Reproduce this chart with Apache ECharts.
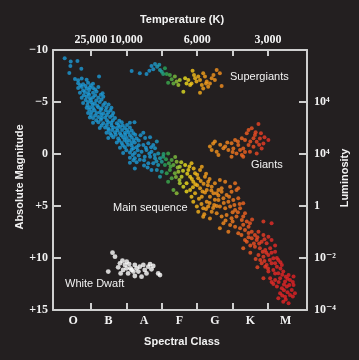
<!DOCTYPE html>
<html><head><meta charset="utf-8">
<script src="https://cdn.jsdelivr.net/npm/echarts@6/dist/echarts.min.js"></script>
<style>html,body{margin:0;padding:0;background:#231f20}#c{width:359px;height:360px}</style>
</head><body><div id="c"></div>
<script>
// ---- data ----
const spectralClasses = ['O','B','A','F','G','K','M'];
const spectralLabelPos = [0.5,1.5,2.5,3.5,4.5,5.5,6.5];
const classBoundaries = [1,2,3,4,5,6];
const temperatureTicks = [1,2,4,6];
const temperatureLabels = ['25,000','10,000','6,000','3,000'];
const magnitudeTicks = [-10,-5,0,5,10,15];
const magnitudeLabels = ['\u221210','\u22125','0','+5','+10','+15'];
const luminosityTicks = [-5,0,5,10,15];
const luminosityLabels = ['10\u2074','10\u2074','1','10\u207B\u00B2','10\u207B\u2074'];

const mainSequence = [
[0.26,-9.2],[0.43,-8.9],[0.62,-8.95],[0.42,-8.45],[0.39,-7.8],[0.73,-8.2],[1.23,-7.45],
[0.55,-7.2],[0.64,-7.1],[0.74,-7.25],[0.88,-7.15],
[0.64,-6.8],[0.78,-6.7],[0.92,-6.85],[1.06,-6.75],
[0.64,-6.35],[0.74,-6.45],[0.88,-6.3],[0.97,-6.4],[1.06,-6.35],[1.21,-6.45],
[0.69,-5.9],[0.83,-5.95],[0.92,-5.85],[1.06,-5.9],[1.16,-6.0],[1.33,-5.85],
[0.74,-5.4],[0.88,-5.5],[0.97,-5.35],[1.06,-5.45],[1.21,-5.4],[1.35,-5.5],
[0.78,-4.9],[0.92,-5.0],[1.02,-4.95],[1.11,-4.85],[1.25,-5.0],[1.40,-4.9],
[0.88,-4.45],[0.97,-4.5],[1.06,-4.4],[1.21,-4.5],[1.30,-4.4],[1.44,-4.5],[1.58,-4.45],
[0.92,-3.95],[1.02,-4.05],[1.16,-3.95],[1.25,-4.0],[1.35,-3.9],[1.49,-4.0],[1.63,-3.95],
[0.97,-3.5],[1.06,-3.45],[1.21,-3.55],[1.30,-3.45],[1.40,-3.5],[1.54,-3.55],[1.68,-3.45],
[1.06,-3.0],[1.21,-3.05],[1.35,-2.95],[1.49,-3.05],[1.58,-3.0],[1.73,-2.95],[1.87,-3.05],[2.10,-3.0],[2.23,-3.05],
[1.25,-2.5],[1.40,-2.55],[1.49,-2.45],[1.63,-2.55],[1.73,-2.5],[1.82,-2.6],[1.96,-2.5],[2.10,-2.55],
[1.44,-2.05],[1.54,-2.0],[1.68,-2.1],[1.82,-2.0],[1.96,-2.05],[2.06,-2.1],[2.20,-2.0],[2.48,-2.05],
[1.49,-1.55],[1.63,-1.6],[1.77,-1.5],[1.91,-1.6],[2.01,-1.55],[2.15,-1.6],[2.29,-1.5],[2.53,-1.55],[2.67,-1.6],
[1.73,-1.1],[1.87,-1.05],[2.01,-1.15],[2.15,-1.05],[2.24,-1.1],
[1.82,-0.6],[1.96,-0.65],[2.20,-0.55],[2.29,-0.65],
[1.91,-0.1],[2.10,-0.15],[2.24,-0.1],
[2.10,0.35],[2.24,0.4],[2.10,0.85],[2.29,0.8],[2.24,1.4],
[0.70,-6.6],[0.85,-6.55],[1.00,-6.6],[0.78,-6.1],[0.95,-6.15],[1.12,-6.2],[0.80,-5.65],[0.95,-5.7],[1.12,-5.65],[1.28,-5.7],
[0.85,-5.2],[1.00,-5.2],[1.15,-5.15],[1.30,-5.25],[0.90,-4.7],[1.05,-4.7],[1.18,-4.65],[1.35,-4.7],[1.50,-4.75],
[0.95,-4.25],[1.10,-4.2],[1.28,-4.25],[1.42,-4.2],[1.55,-4.2],[1.00,-3.75],[1.12,-3.7],[1.30,-3.75],[1.45,-3.75],[1.60,-3.7],
[1.15,-3.25],[1.28,-3.3],[1.45,-3.25],[1.62,-3.25],[1.80,-3.2],[1.30,-2.75],[1.45,-2.8],[1.58,-2.75],[1.78,-2.8],[1.90,-2.75],[2.02,-2.8],
[1.50,-2.3],[1.60,-2.3],[1.75,-2.25],[1.88,-2.3],[2.02,-2.3],[2.15,-2.25],[1.58,-1.8],[1.70,-1.85],[1.85,-1.8],[1.97,-1.85],
[2.10,-1.8],[2.25,-1.85],[2.40,-1.8],[1.80,-1.3],[1.95,-1.35],[2.08,-1.3],[2.20,-1.35],[2.35,-1.3],[1.90,-0.85],[2.05,-0.9],
[2.15,-0.8],[2.35,-0.85],[2.00,-0.35],[2.15,-0.4],[2.32,-0.35],[2.18,0.1],[2.35,0.15],[2.20,0.6],[2.38,0.55],[2.50,0.6],
[2.55,-0.6],[2.70,-0.65],[2.65,-0.05],[2.80,0.1],[2.50,1.1],[2.85,0.7],[2.60,1.3],
[2.48,-0.87],[2.62,-1.03],[2.76,-0.87],[2.86,-1.19],[2.43,-0.22],[2.57,-0.38],[2.71,-0.22],[2.81,-0.55],[2.90,-0.06],
[2.52,0.26],[2.67,0.26],[2.81,0.42],[2.95,0.42],[3.04,0.26],[2.62,0.9],[2.76,0.9],[2.90,1.06],[3.00,0.74],[3.09,1.06],
[2.71,1.54],[2.86,1.54],[3.00,1.7],[3.14,1.86],[2.95,2.18],
[3.18,-0.06],[3.28,0.58],[3.33,1.06],[3.42,0.74],[3.51,1.22],[3.23,1.54],[3.37,1.86],[3.47,1.7],[3.56,2.18],
[3.18,2.66],[3.33,3.46],[3.42,3.78],[3.51,2.82],[3.61,3.14],[3.28,2.34],
[3.05,0.0],[3.12,0.5],[3.20,0.9],[3.25,1.2],[3.38,0.3],[3.45,1.3],[3.55,0.8],[3.60,1.6],[3.40,2.2],[3.50,2.5],
[3.72,1.9],[3.78,1.2],[3.85,2.4],[3.90,1.4],[3.95,2.9],[3.70,3.6],[3.88,3.2],[4.00,2.0],[4.10,2.6],[4.15,3.6],
[4.25,1.9],[4.35,2.4],[4.40,3.5],[4.30,3.0],[4.12,4.8],[4.25,5.3],[4.35,4.7],[4.48,4.9],
[3.66,1.06],[3.75,1.54],[3.84,0.9],[3.80,2.18],[3.89,2.66],[3.94,1.86],[4.03,2.34],[4.08,1.54],[3.70,2.82],
[3.80,3.46],[3.94,3.78],[4.08,3.3],[4.13,4.1],[3.89,4.58],[3.99,5.06],[4.17,5.22],[4.03,5.55],[3.84,4.1],[4.13,1.22],
[4.22,2.18],[4.31,2.66],[4.41,3.14],[4.50,2.82],[4.60,3.46],[4.69,3.3],[4.27,3.46],[4.36,4.1],[4.46,3.78],
[4.31,5.06],[4.41,5.55],[4.36,6.19],[4.27,4.58],[4.17,6.03],[4.79,2.66],[4.93,3.14],[5.07,2.82],[5.16,3.3],[4.64,2.5],
[4.00,3.0],[4.18,2.85],[4.22,3.7],[4.50,4.4],[4.55,5.0],[4.05,4.3],[4.45,5.2],[4.20,5.8],
[4.55,3.78],[4.69,3.62],[4.83,3.94],[4.97,3.62],[5.11,3.46],[4.60,4.42],[4.74,4.26],[4.88,4.58],[5.02,4.42],[5.16,4.26],
[5.30,4.74],[4.64,5.06],[4.79,5.22],[4.93,5.06],[5.07,5.38],[5.21,5.22],[5.35,5.7],[4.55,5.7],[4.69,6.02],[4.83,5.86],
[4.97,6.18],[5.11,6.02],[5.26,6.34],[5.40,6.5],[4.74,6.67],[4.93,6.83],[5.07,6.99],[5.21,7.15],[5.35,7.31],[5.49,6.67],
[4.64,7.15],[4.88,7.47],[5.16,7.63],
[4.60,4.0],[4.75,4.7],[4.90,4.1],[5.05,4.9],[5.20,4.8],[5.00,5.6],[5.15,5.6],[5.30,6.0],[4.80,6.4],[5.00,6.5],
[5.30,6.8],[5.45,7.6],[5.55,6.3],[5.25,7.8],[5.45,8.0],[5.70,8.0],[5.90,8.2],[5.50,8.8],[5.75,8.6],[5.85,9.4],
[6.10,9.5],[6.25,10.0],[5.65,10.1],[5.90,10.3],[6.20,10.5],[6.35,10.4],[6.00,11.0],[6.20,11.5],[6.40,11.6],[6.55,12.0],
[6.10,12.3],[6.30,12.3],[6.45,12.55],[6.70,12.3],[6.55,13.3],[6.40,13.6],[6.70,13.7],[6.50,14.0],
[5.54,7.47],[5.63,7.79],[5.73,7.47],[5.87,7.79],[6.01,7.95],[5.54,8.11],[5.68,8.27],[5.82,8.43],[5.96,8.59],[6.10,8.27],
[5.40,8.43],[5.63,8.91],[5.77,9.07],[5.92,9.23],[6.06,9.07],[6.20,9.39],[5.73,9.71],[5.87,9.87],[6.01,9.71],[6.15,10.03],
[6.29,10.19],[5.82,10.51],[5.96,10.67],[6.10,10.51],[6.25,10.83],[6.39,10.67],[5.87,6.5],[6.10,6.67],[5.30,9.07],[5.35,8.27],
[5.45,7.0],[5.60,8.6],[5.50,9.5],[5.78,10.2],[6.05,10.2],[6.35,11.0],[6.50,11.8],[6.15,12.5],[6.60,12.6],[6.45,13.1],[5.95,9.5],[6.20,8.8],[5.70,10.9],
[6.01,11.31],[6.15,11.15],[6.29,11.47],[6.43,11.31],[6.58,11.63],[6.06,11.95],[6.20,12.11],[6.34,11.95],[6.48,12.27],[6.62,12.11],
[6.72,12.59],[6.25,12.75],[6.39,12.91],[6.53,12.75],[6.67,13.08],[6.34,13.4],[6.48,13.72],[6.62,13.56],[6.76,13.4],[6.43,14.2],
[6.58,14.36],[6.29,13.88],[5.92,10.83],[6.72,11.79],[5.87,11.95]
];

const supergiants = [
[2.15,-7.98],[2.38,-7.76],[2.57,-7.69],[2.65,-8.01],[2.71,-8.46],[2.81,-8.65],[2.87,-8.4],[2.93,-8.59],[2.76,-8.14],[2.95,-8.08],
[3.00,-7.92],[3.09,-8.24],[3.14,-7.69],[3.04,-7.69],[3.23,-7.6],[3.28,-7.18],[3.18,-6.86],[3.37,-7.44],[3.42,-6.96],[3.51,-7.12],
[3.47,-6.63],[3.33,-6.79],[3.61,-5.99],[3.66,-7.28],[3.70,-6.79],[3.75,-7.12],[3.80,-6.63],[3.87,-8.01],[3.91,-7.6],[3.94,-7.28],
[3.98,-6.96],[3.84,-6.79],[4.03,-7.44],[4.08,-7.12],[4.13,-6.63],[4.08,-5.9],[4.17,-7.76],[4.22,-7.44],[4.27,-6.96],[4.31,-6.47],
[4.36,-6.79],[4.41,-7.28],[4.46,-7.6],[4.50,-7.12],[4.55,-8.08],[4.64,-7.76],[4.69,-6.54],[4.17,-6.31],[4.25,-6.79]
];

const giants = [
[4.36,-0.71],[4.41,-0.38],[4.50,-1.19],[4.55,-0.22],[4.79,-0.71],[4.88,-0.38],[4.97,-1.03],[5.02,-0.54],[5.07,-1.35],[5.11,-0.06],
[5.16,-0.87],[5.21,-0.38],[4.97,0.26],[4.60,0.09],[4.74,-0.55],
[5.73,-2.88],[5.54,-2.47],[5.40,-1.99],[5.63,-1.83],[5.77,-1.5],[6.01,-1.34],[5.87,-1.02],[5.68,-1.18],[5.82,-0.54],[5.59,-0.7],
[5.45,-0.86],[5.30,-0.54],[5.49,-0.22],[5.26,0.1],[5.35,-1.34],[5.68,-0.06],[5.30,0.26],[5.59,-1.51],[5.26,-1.51],
[4.45,-1.0],[4.65,-0.9],[4.85,-1.1],[5.00,-0.2],[5.15,-1.2],[5.35,-0.2],[5.50,-1.2],[5.65,-2.1],[5.80,-2.0],[5.90,-1.6],[5.45,-2.3],[5.75,-0.9]
];

const whiteDwarfs = [
[1.61,9.49],[1.68,9.87],[1.49,11.31],[1.82,10.51],[1.89,10.26],[1.96,10.67],[2.01,10.35],[2.08,10.58],[2.12,10.99],[1.91,11.15],
[1.77,10.9],[1.84,11.48],[2.05,11.48],[2.20,11.31],[2.29,10.99],[2.24,10.67],[2.34,11.31],[2.38,10.83],[2.48,10.67],[2.52,11.15],
[2.62,10.83],[2.67,10.58],[2.71,11.09],[2.76,10.77],[2.57,11.48],[2.43,11.8],[2.24,11.73],[2.90,11.48],[2.95,11.64],[2.15,11.15],[2.01,10.99]
];

// ---- styling ----
const colorStops = [[2.75,[29,154,214]],[2.95,[31,162,181]],[3.1,[40,168,87]],[3.3,[91,181,68]],[3.5,[181,211,52]],
  [3.65,[240,228,30]],[3.85,[248,200,28]],[4.2,[246,161,29]],[4.8,[245,138,31]],[5.3,[242,103,34]],[5.7,[236,71,37]],
  [6.1,[231,44,40]],[6.6,[228,34,38]]];
function colorAt(x){
  if (x <= colorStops[0][0]) return 'rgb(' + colorStops[0][1].join(',') + ')';
  const last = colorStops[colorStops.length-1];
  if (x >= last[0]) return 'rgb(' + last[1].join(',') + ')';
  for (let i=0;i<colorStops.length-1;i++){
    const a=colorStops[i], b=colorStops[i+1];
    if (x>=a[0] && x<=b[0]){
      const t=(x-a[0])/(b[0]-a[0]);
      const c=a[1].map((v,k)=>Math.round(v+(b[1][k]-v)*t));
      return 'rgb('+c.join(',')+')';
    }
  }
}
const AX = '#cfcfcf';
const TXT = '#f2f2f2';
const serif = '"Liberation Serif","DejaVu Serif",serif';
const sans = '"Liberation Sans",Arial,sans-serif';
const axisLine = {show:true, onZero:false, lineStyle:{color:AX, width:2}};
const colorFn = p => colorAt(p.value[0]);

const chart = echarts.init(document.getElementById('c'), null, {renderer:'canvas'});
chart.setOption({
  backgroundColor:'#231f20',
  animation:false,
  grid:{left:53, right:52, top:50, bottom:50},
  xAxis:[
    {type:'value', position:'bottom', min:-0.07, max:7.1,
     axisLine:axisLine,
     axisTick:{show:true, inside:true, length:7, customValues:classBoundaries, lineStyle:{color:AX,width:2}},
     axisLabel:{customValues:spectralLabelPos, formatter:v=>spectralClasses[Math.floor(v)], color:TXT,
       fontFamily:serif, fontWeight:'bold', fontSize:12, margin:5},
     splitLine:{show:false}},
    {type:'value', position:'top', min:-0.07, max:7.1,
     axisLine:axisLine,
     axisTick:{show:true, inside:true, length:6, customValues:classBoundaries, lineStyle:{color:AX,width:2}},
     axisLabel:{customValues:temperatureTicks, formatter:v=>temperatureLabels[temperatureTicks.indexOf(Math.round(v))], color:TXT,
       fontFamily:serif, fontWeight:'bold', fontSize:12, margin:4},
     splitLine:{show:false}}
  ],
  yAxis:[
    {type:'value', position:'left', inverse:true, min:-10, max:15, interval:5,
     axisLine:axisLine,
     axisTick:{show:true, inside:true, length:8, customValues:[-5,0,5,10], lineStyle:{color:AX,width:2}},
     axisLabel:{customValues:magnitudeTicks, formatter:v=>magnitudeLabels[magnitudeTicks.indexOf(Math.round(v))], color:TXT,
       fontFamily:serif, fontWeight:'bold', fontSize:12, margin:5, showMinLabel:true, showMaxLabel:true},
     splitLine:{show:false}},
    {type:'value', position:'right', inverse:true, min:-10, max:15, interval:5,
     axisLine:axisLine,
     axisTick:{show:true, inside:true, length:8, customValues:[-5,0,5,10], lineStyle:{color:AX,width:2}},
     axisLabel:{customValues:luminosityTicks, formatter:v=>luminosityLabels[luminosityTicks.indexOf(Math.round(v))], color:TXT,
       fontFamily:serif, fontWeight:'bold', fontSize:12, margin:7, showMinLabel:true, showMaxLabel:true},
     splitLine:{show:false}}
  ],
  series:[
    {name:'Main sequence', type:'scatter', data:mainSequence, symbolSize:4, itemStyle:{color:colorFn}},
    {name:'Supergiants', type:'scatter', data:supergiants, symbolSize:4, itemStyle:{color:colorFn}},
    {name:'Giants', type:'scatter', data:giants, symbolSize:4, itemStyle:{color:colorFn}},
    {name:'White Dwaft', type:'scatter', data:whiteDwarfs, symbolSize:4.8, itemStyle:{color:'#ffffff'}}
  ],
  graphic:[
    {type:'text', x:182, y:20, style:{text:'Temperature (K)', fill:TXT, font:'bold 11px '+sans, align:'center', verticalAlign:'middle'}},
    {type:'text', x:182, y:342, style:{text:'Spectral Class', fill:TXT, font:'bold 11px '+sans, align:'center', verticalAlign:'middle'}},
    {type:'text', x:20, y:177, rotation:Math.PI/2, style:{text:'Absolute Magnitude', fill:TXT, font:'bold 11px '+sans, align:'center', verticalAlign:'middle'}},
    {type:'text', x:345, y:178, rotation:Math.PI/2, style:{text:'Luminosity', fill:TXT, font:'bold 11px '+sans, align:'center', verticalAlign:'middle'}},
    {type:'text', x:230, y:77, style:{text:'Supergiants', fill:TXT, font:'11px '+sans, align:'left', verticalAlign:'middle'}},
    {type:'text', x:251, y:165, style:{text:'Giants', fill:TXT, font:'11px '+sans, align:'left', verticalAlign:'middle'}},
    {type:'text', x:113, y:208, style:{text:'Main sequence', fill:TXT, font:'11px '+sans, align:'left', verticalAlign:'middle'}},
    {type:'text', x:65, y:284, style:{text:'White Dwaft', fill:TXT, font:'11px '+sans, align:'left', verticalAlign:'middle'}}
  ]
});
</script>
</body></html>
